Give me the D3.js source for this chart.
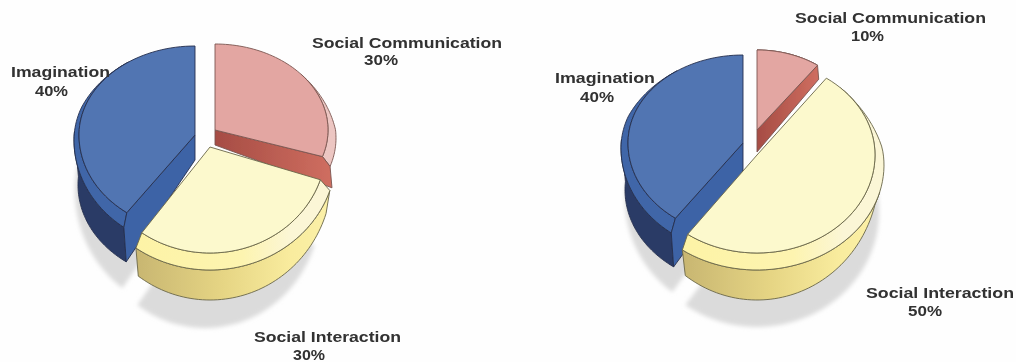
<!DOCTYPE html>
<html><head><meta charset="utf-8">
<script src="https://cdn.jsdelivr.net/npm/d3@7"></script>
<style>html,body{margin:0;padding:0;background:#fefefe;overflow:hidden}svg{display:block}text{font-family:"Liberation Sans",Arial,sans-serif;font-weight:700;font-size:14.5px;fill:#303030}</style>
</head><body><svg id="c" width="1016" height="362"></svg>
<script>
const categories = ["Social Communication","Social Interaction","Imagination"];
const valuesLeft = [30,30,40];
const valuesRight = [10,50,40];

// Geometry of each pictured pie: ellipses for top face, bevel rim, base, shadow (layout only)
const R=(cx,cy,rx,up,down)=>({cx,cy,rx,up,down:down===undefined?up:down});
const layouts=[
 {values:valuesLeft,slices:[
  {top:R(215,130,113,86),rim:R(215,138,121,92),base:R(215,160,123,90),depth:15,wallFrom:null,shadow:null,kind:"red",rimFrom:50,rimTo:108},
  {top:R(210,147,116,97,106),rim:R(210,155,126,100,115),base:R(210,175,122,120,125),depth:0,wallFrom:108,shadow:R(205,208,115,120),kind:"yellow",noFace:true,rimFrom:108,rimTo:216},
  {top:R(195,135,116,89,96),rim:R(195,140,121,94,108),base:R(195,185,117,95),depth:25,wallFrom:216,wallTo:275,shadow:R(190,191,115,120),shadowTo:290,kind:"blue",rimFrom:216,rimTo:325}],
  labels:[[407,47.6,190,364,398,65],[327.5,342,147,293,325,360],[60.5,77,99,35,68,96]]},
 {values:valuesRight,slices:[
  {top:R(757,130,103,80),rim:R(757,130,103,80),base:R(757,144,105,80),depth:22,wallFrom:null,shadow:null,kind:"red",rimFrom:0,rimTo:36},
  {top:R(757,155,118,95,98),rim:R(757,165,127,100,105),base:R(757,172,122,120,128),depth:0,wallFrom:105,shadow:R(757,212,122,115),kind:"yellow",noFace:true,rimFrom:45,rimTo:216},
  {top:R(743,143,115,88,93),rim:R(743,148,122,93,105),base:R(743,190,118,95),depth:29,wallFrom:216,wallTo:275,shadow:R(740,199,115,115),shadowTo:290,kind:"blue",rimFrom:216,rimTo:325}],
  labels:[[890.5,23,191,851,884,41],[940,298,148,908,942,316],[605,83,100,580,614,102]]}
];
const palette={
 red:{top:"#e3a6a2",rim:"#ecc6c2",face:"url(#gRedFace)",wall:"#3a2a2a",line:"#7a5650"},
 yellow:{top:"#fcf9cd",rim:"url(#gYelRim)",face:"#d8c77a",wall:"url(#gYelWall)",line:"#6a6748"},
 blue:{top:"#5174b2",rim:"#3f66a8",face:"#3e63a6",wall:"#2b3b66",line:"#26304e"}
};

const svg=d3.select("#c");
const defs=svg.append("defs");
const grad=(id,stops)=>{const g=defs.append("linearGradient").attr("id",id);stops.forEach(([o,c])=>g.append("stop").attr("offset",o).attr("stop-color",c));};
grad("gRedFace",[[0,"#a64c44"],[1,"#cf6e60"]]);
grad("gYelRim",[[0,"#fdf3a6"],[0.55,"#fdf4b0"],[0.8,"#fbf6d6"],[1,"#fbf6d6"]]);
grad("gYelWall",[[0,"#c8b671"],[0.45,"#e6d584"],[0.8,"#f9ec9e"],[1,"#fbf0a8"]]);
defs.append("filter").attr("id","soft").append("feGaussianBlur").attr("stdDeviation",0.55);
defs.append("filter").attr("id","softer").attr("x","-20%").attr("y","-20%").attr("width","140%").attr("height","140%").append("feGaussianBlur").attr("stdDeviation",2);

const pt=(r,t)=>[r.cx+r.rx*Math.sin(t),r.cy-(Math.cos(t)>0?r.up:r.down)*Math.cos(t)];
const sample=(r,a,b)=>d3.range(0,61).map(i=>pt(r,a+(b-a)*i/60));
const line=d3.line();
const closed=p=>line(p)+"Z";
const rad=d=>d*Math.PI/180;
const pie=d3.pie().sort(null).value(d=>d).startAngle(0).endAngle(2*Math.PI);

// Bevel outline that melts into the top face at the end where the bevel fades out
function rimOutline(s,kind,a,b){
  const fade=rad(35);
  return d3.range(0,61).map(i=>{
    const t=a+(b-a)*i/60;
    let w=1;
    if(kind==="blue") w=Math.min(1,(b-t)/fade);
    else if(kind==="red"||a>rad(108)-0.001&&false) w=Math.min(1,(t-a)/fade);
    else if(a<rad(100)) w=Math.min(1,(t-a)/fade);
    const p=pt(s.top,t),q=pt(s.rim,t);
    return [p[0]+(q[0]-p[0])*w,p[1]+(q[1]-p[1])*w];
  });
}

const shadowG=svg.append("g").attr("filter","url(#softer)");
const pieG=svg.append("g").attr("filter","url(#soft)");
const textG=svg.append("g").attr("filter","url(#soft)");

layouts.forEach(L=>{
  const arcs=pie(L.values);
  arcs.forEach((a,i)=>{
    const s=L.slices[i]; if(!s.shadow) return;
    const end=s.shadowTo?rad(s.shadowTo):a.endAngle;
    shadowG.append("path").attr("fill","#dbdbdb")
      .attr("d",closed([[s.shadow.cx,s.shadow.cy],...sample(s.shadow,a.startAngle,end)]));
  });
  [2,0,1].forEach(i=>{
    const a=arcs[i],s=L.slices[i],c=palette[s.kind];
    const g=pieG.append("g").attr("stroke",c.line).attr("stroke-width",0.9).attr("stroke-linejoin","round");
    if(s.wallFrom!==null){
      const t0=rad(s.wallFrom),t1=s.wallTo?rad(s.wallTo):a.endAngle;
      g.append("path").attr("fill",c.wall)
        .attr("d",closed([...sample(s.rim,t0,t1),...sample(s.base,t1,t0)]));
    }
    const r0=rad(s.rimFrom),r1=rad(s.rimTo);
    g.append("path").attr("fill",c.rim)
      .attr("d",closed([...sample(s.top,r0,r1),...rimOutline(s,s.kind,r0,r1).reverse()]));
    if(!s.noFace){
      const at=s.kind==="blue"?a.startAngle:a.endAngle;
      g.append("path").attr("fill",c.face)
       .attr("d",closed([[s.top.cx,s.top.cy],pt(s.top,at),pt(s.rim,at),pt(s.base,at),[s.top.cx,s.top.cy+s.depth]]));
    }
    g.append("path").attr("fill",c.top)
      .attr("d",closed([[s.top.cx,s.top.cy],...sample(s.top,a.startAngle,a.endAngle)]));
  });
  L.labels.forEach((l,i)=>{
    textG.append("text").attr("x",l[0]).attr("y",l[1]).attr("text-anchor","middle")
      .attr("textLength",l[2]).attr("lengthAdjust","spacingAndGlyphs").text(categories[i]);
    textG.append("text").attr("x",(l[3]+l[4])/2).attr("y",l[5]).attr("text-anchor","middle")
      .attr("textLength",l[4]-l[3]).attr("lengthAdjust","spacingAndGlyphs").text(L.values[i]+"%");
  });
});
</script></body></html>
